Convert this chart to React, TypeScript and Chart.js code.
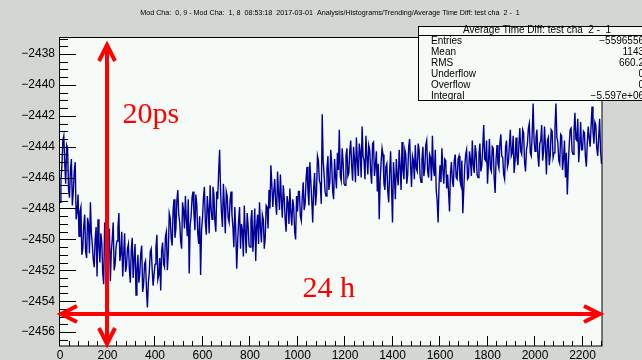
import { useEffect, useRef } from "react";
import { Chart, registerables } from "chart.js";

Chart.register(...registerables);

const TITLE =
  "Mod Cha:  0, 9 - Mod Cha:  1, 8  08:53:18  2017-03-01  Analysis/Histograms/Trending/Average Time Diff: test cha  2 -  1";
const statsTitle = "Average Time Diff: test cha  2 -  1";
const statsLabels = ["Entries", "Mean", "RMS", "Underflow", "Overflow", "Integral"];
const statsValues = ["\u22125596556", "1143", "660.2", "0", "0", "\u22125.597e+06"];

const xTicks = [0, 200, 400, 600, 800, 1000, 1200, 1400, 1600, 1800, 2000, 2200];
const yTicks = [-2456, -2454, -2452, -2450, -2448, -2446, -2444, -2442, -2440, -2438];

const binWidth = 4;

// bins 0, 8, 16 ... 392
const valuesA = [
  -2447.6, -2445.2, -2443.3, -2446.4, -2444.1, -2447.3, -2444.8, -2446.9, -2445.0, -2448.2,
  -2449.8, -2447.9, -2450.6, -2448.4, -2451.2, -2449.0, -2447.6, -2450.3, -2451.8, -2449.2,
  -2448.7, -2451.5, -2450.2, -2452.9, -2449.8, -2451.9, -2449.3, -2450.8, -2448.9, -2451.6,
  -2450.1, -2448.3, -2450.9, -2452.4, -2449.6, -2451.7, -2450.3, -2452.8, -2449.9, -2451.2,
  -2453.6, -2451.0, -2452.2, -2450.4, -2452.9, -2451.4, -2454.4, -2452.1, -2450.6, -2453.0,
];
// bins 4, 12, 20 ... 396
const valuesA2 = [
  -2446.2, -2443.6, -2445.1, -2443.9, -2446.8, -2445.5, -2447.8, -2445.6, -2448.7, -2447.1,
  -2448.2, -2451.0, -2449.1, -2450.8, -2448.6, -2450.9, -2449.6, -2451.3, -2450.0, -2452.4,
  -2450.4, -2449.6, -2452.2, -2448.9, -2451.1, -2450.4, -2452.7, -2450.0, -2452.0, -2450.5,
  -2449.2, -2451.4, -2449.5, -2451.0, -2452.1, -2450.6, -2451.9, -2450.7, -2452.5, -2450.3,
  -2452.0, -2452.8, -2450.9, -2453.4, -2451.6, -2453.2, -2452.8, -2450.8, -2451.9, -2452.3,
];
// bins 400 ... 792
const valuesB = [
  -2451.6, -2449.7, -2452.3, -2453.3, -2450.2, -2451.8, -2449.5, -2450.9, -2448.6, -2450.4,
  -2447.4, -2449.3, -2446.8, -2448.9, -2450.6, -2448.1, -2447.2, -2449.8, -2452.2, -2448.5,
  -2446.9, -2449.4, -2447.8, -2450.3, -2452.3, -2448.6, -2446.6, -2449.7, -2448.0, -2446.5,
  -2448.7, -2447.1, -2449.5, -2447.4, -2444.2, -2448.3, -2446.4, -2449.6, -2447.2, -2448.9,
  -2446.9, -2449.2, -2447.9, -2451.9, -2448.8, -2450.6, -2449.4, -2447.8, -2450.9, -2449.1,
];
// bins 404 ... 796
const valuesB2 = [
  -2450.5, -2452.6, -2451.2, -2450.7, -2451.6, -2449.8, -2452.0, -2448.3, -2449.9, -2448.2,
  -2449.9, -2447.5, -2448.4, -2450.1, -2447.6, -2449.3, -2448.8, -2447.4, -2449.1, -2447.3,
  -2448.3, -2447.1, -2449.6, -2448.5, -2449.4, -2447.3, -2448.9, -2447.2, -2449.6, -2447.9,
  -2446.6, -2448.8, -2446.9, -2445.6, -2446.8, -2449.2, -2447.8, -2446.9, -2448.6, -2447.5,
  -2448.4, -2450.5, -2449.4, -2450.2, -2447.9, -2449.0, -2451.1, -2449.5, -2448.3, -2450.4,
];
// bins 800 ... 1192
const valuesC = [
  -2450.5, -2448.1, -2449.6, -2451.4, -2448.4, -2447.6, -2450.2, -2448.7, -2449.9, -2447.9,
  -2446.8, -2445.2, -2447.9, -2446.1, -2448.4, -2447.0, -2445.8, -2448.6, -2447.3, -2449.5,
  -2447.6, -2446.7, -2449.1, -2447.9, -2450.0, -2448.2, -2446.9, -2448.8, -2446.3, -2447.7,
  -2445.3, -2447.8, -2446.2, -2448.9, -2445.7, -2447.0, -2444.9, -2446.4, -2441.9, -2445.8,
  -2447.2, -2444.6, -2446.3, -2445.1, -2447.4, -2445.9, -2444.4, -2442.9, -2446.2, -2445.0,
];
// bins 804 ... 1196
const valuesC2 = [
  -2448.7, -2450.8, -2448.0, -2449.1, -2450.3, -2449.2, -2448.4, -2450.6, -2447.8, -2449.3,
  -2448.0, -2446.5, -2446.9, -2447.6, -2445.6, -2448.1, -2447.4, -2446.5, -2448.7, -2447.2,
  -2449.0, -2448.3, -2447.4, -2449.5, -2447.2, -2446.9, -2448.5, -2447.3, -2448.1, -2446.1,
  -2446.9, -2445.0, -2447.5, -2446.7, -2447.8, -2444.6, -2446.2, -2447.7, -2444.9, -2446.9,
  -2445.4, -2446.8, -2444.2, -2446.9, -2444.8, -2446.7, -2445.5, -2445.9, -2444.1, -2446.4,
];
// bins 1200 ... 1592
const valuesD = [
  -2446.5, -2444.1, -2445.7, -2443.6, -2446.2, -2444.8, -2443.4, -2445.9, -2444.3, -2442.7,
  -2444.9, -2443.3, -2445.8, -2444.2, -2446.4, -2443.7, -2445.2, -2446.9, -2448.7, -2445.0,
  -2444.5, -2446.8, -2445.1, -2447.6, -2444.3, -2448.9, -2446.0, -2444.8, -2446.5, -2445.3,
  -2443.7, -2446.1, -2444.5, -2445.8, -2443.5, -2446.6, -2444.9, -2443.9, -2445.6, -2444.2,
  -2446.3, -2444.0, -2445.4, -2443.6, -2446.0, -2444.7, -2443.3, -2445.9, -2446.8, -2448.9,
];
// bins 1204 ... 1596
const valuesD2 = [
  -2444.6, -2445.9, -2444.3, -2445.2, -2444.0, -2446.3, -2444.9, -2443.8, -2446.0, -2444.6,
  -2446.1, -2444.6, -2443.9, -2445.6, -2443.8, -2445.9, -2444.3, -2445.1, -2446.2, -2444.1,
  -2446.4, -2445.3, -2446.9, -2445.6, -2446.7, -2445.0, -2447.4, -2445.9, -2444.2, -2446.8,
  -2445.5, -2444.2, -2446.4, -2444.0, -2445.2, -2444.6, -2446.1, -2445.4, -2443.8, -2445.9,
  -2444.8, -2445.9, -2443.9, -2445.6, -2444.5, -2446.2, -2445.4, -2444.2, -2447.5, -2446.4,
];
// bins 1600 ... 1992
const valuesE = [
  -2445.2, -2444.1, -2446.4, -2444.9, -2445.8, -2448.2, -2445.0, -2446.6, -2444.5, -2446.1,
  -2444.6, -2446.5, -2448.3, -2445.3, -2444.2, -2446.0, -2444.8, -2443.6, -2445.7, -2444.4,
  -2446.0, -2443.8, -2445.2, -2442.6, -2444.9, -2446.4, -2443.5, -2445.6, -2444.1, -2447.0,
  -2443.9, -2445.4, -2443.2, -2444.7, -2446.1, -2443.6, -2445.0, -2442.9, -2444.4, -2445.7,
  -2443.4, -2445.2, -2442.8, -2444.5, -2443.1, -2445.6, -2443.8, -2442.5, -2444.6, -2441.2,
];
// bins 1604 ... 1996
const valuesE2 = [
  -2446.3, -2445.5, -2444.8, -2446.7, -2446.9, -2445.7, -2446.2, -2444.9, -2446.0, -2444.8,
  -2446.2, -2444.9, -2446.8, -2444.5, -2446.1, -2444.3, -2445.9, -2445.2, -2443.9, -2445.8,
  -2444.5, -2445.6, -2444.0, -2444.8, -2443.6, -2445.0, -2445.4, -2444.0, -2446.0, -2444.8,
  -2445.1, -2443.8, -2444.6, -2445.8, -2444.0, -2445.3, -2443.9, -2444.6, -2443.3, -2444.9,
  -2444.7, -2443.9, -2444.3, -2442.9, -2445.0, -2444.2, -2442.8, -2444.4, -2443.2, -2443.6,
];
// bins 2000 ... 2280
const valuesF = [
  -2444.3, -2442.9, -2445.3, -2443.6, -2444.9, -2442.7, -2445.8, -2443.4, -2444.6, -2443.0,
  -2444.4, -2441.2, -2443.7, -2445.1, -2443.3, -2444.8, -2446.0, -2447.1, -2443.9, -2442.8,
  -2444.5, -2441.8, -2443.6, -2445.0, -2442.4, -2444.2, -2443.1, -2445.3, -2442.7, -2444.0,
  -2441.4, -2443.8, -2442.6, -2444.6, -2442.2, -2445.1,
];
// bins 2004 ... 2276
const valuesF2 = [
  -2443.4, -2444.6, -2443.8, -2442.6, -2444.3, -2444.0, -2443.6, -2445.2, -2442.9, -2444.7,
  -2442.8, -2443.4, -2444.9, -2443.2, -2445.5, -2443.6, -2444.4, -2445.2, -2442.9, -2444.3,
  -2443.0, -2443.5, -2442.2, -2443.9, -2444.2, -2443.0, -2444.6, -2443.8, -2443.4, -2442.7,
  -2443.0, -2442.4, -2444.1, -2443.4, -2444.3,
];

const X_MAX = 2282;
const Y_MIN = -2456.9;
const Y_MAX = -2436.9;

const BG = "rgb(211,214,211)";
const PLOT_BG = "rgb(247,251,247)";
const LINE = "#000099";
const RED = "#ff0000";
const SANS = '"Liberation Sans", Arial, Helvetica, sans-serif';
const SERIF = '"Liberation Serif", "Times New Roman", serif';

function fmt(v: number) {
  return v < 0 ? "\u2212" + Math.abs(v) : String(v);
}

function arrowLine(
  ctx: CanvasRenderingContext2D,
  x1: number,
  y1: number,
  x2: number,
  y2: number,
  along: number,
  across: number
) {
  ctx.beginPath();
  ctx.moveTo(x1, y1);
  ctx.lineTo(x2, y2);
  ctx.stroke();
  const dx = x2 - x1;
  const dy = y2 - y1;
  const len = Math.hypot(dx, dy);
  const ux = dx / len;
  const uy = dy / len;
  const heads: [number, number, number][] = [
    [x1, y1, 1],
    [x2, y2, -1],
  ];
  for (const [tx, ty, s] of heads) {
    const bx = tx + ux * along * s;
    const by = ty + uy * along * s;
    ctx.beginPath();
    ctx.moveTo(bx - uy * across, by + ux * across);
    ctx.lineTo(tx, ty);
    ctx.lineTo(bx + uy * across, by - ux * across);
    ctx.stroke();
  }
}

const rootStyle = {
  id: "rootStyle",
  beforeDraw(chart: any) {
    const { ctx, chartArea: a, width, height } = chart;
    ctx.save();
    ctx.fillStyle = BG;
    ctx.fillRect(0, 0, width, height);
    ctx.fillStyle = PLOT_BG;
    ctx.fillRect(a.left, a.top, a.right - a.left, a.bottom - a.top);
    ctx.font = `10px ${SANS}`;
    const w = ctx.measureText(TITLE).width;
    const size = (10 * 380) / w;
    ctx.font = `${size}px ${SANS}`;
    ctx.fillStyle = "#000";
    ctx.textAlign = "center";
    ctx.textBaseline = "middle";
    ctx.fillText(TITLE, 330, 13.5);
    ctx.restore();
  },
  afterDraw(chart: any) {
    const { ctx, chartArea: a } = chart;
    const xs = chart.scales.x;
    const ys = chart.scales.y;
    ctx.save();
    // frame
    ctx.strokeStyle = "#000";
    ctx.lineWidth = 1;
    ctx.strokeRect(a.left - 0.5, a.top + 0.5, a.right - a.left + 0.5, a.bottom - a.top - 0.5);
    // y ticks
    ctx.beginPath();
    for (let k = Math.ceil(Y_MIN * 2); k <= Math.floor(Y_MAX * 2); k++) {
      const v = k / 2;
      const py = Math.round(ys.getPixelForValue(v)) + 0.5;
      const len = k % 4 === 0 ? 16 : 8;
      ctx.moveTo(a.left, py);
      ctx.lineTo(a.left + len, py);
    }
    // x ticks
    for (let k = 0; k * 40 <= X_MAX; k++) {
      const v = k * 40;
      const px = Math.round(xs.getPixelForValue(v)) - 0.5;
      const len = k % 5 === 0 ? 10 : 5;
      ctx.moveTo(px, a.bottom);
      ctx.lineTo(px, a.bottom - len);
    }
    ctx.stroke();

    // stats box
    const bx = 418.5;
    const by = 26.5;
    ctx.fillStyle = PLOT_BG;
    ctx.fillRect(bx, by, 300, 74);
    ctx.strokeRect(bx, by, 300, 74);
    ctx.beginPath();
    ctx.moveTo(bx, 35.5);
    ctx.lineTo(660, 35.5);
    ctx.stroke();
    ctx.fillStyle = "#000";
    ctx.font = `10px ${SANS}`;
    ctx.textBaseline = "middle";
    ctx.textAlign = "center";
    ctx.fillText(statsTitle, 537, 30.5);
    statsLabels.forEach((lab, i) => {
      const yy = 40.8 + i * 11;
      ctx.textAlign = "left";
      ctx.fillText(lab, 431, yy);
      ctx.textAlign = "right";
      ctx.fillText(statsValues[i], 644, yy);
    });

    // red annotations
    ctx.strokeStyle = RED;
    ctx.lineWidth = 4;
    ctx.lineCap = "butt";
    ctx.lineJoin = "miter";
    arrowLine(ctx, 107, 45, 107, 344, 16, 8);
    arrowLine(ctx, 61, 314, 600, 314, 16, 8);
    ctx.fillStyle = RED;
    ctx.font = `30px ${SERIF}`;
    ctx.textAlign = "left";
    ctx.textBaseline = "alphabetic";
    ctx.fillText("20ps", 122.5, 123);
    ctx.fillText("24 h", 302.5, 297);
    ctx.restore();
  },
};

export default function App() {
  const ref = useRef<HTMLCanvasElement | null>(null);
  useEffect(() => {
    if (!ref.current) return;
    const even = [...valuesA, ...valuesB, ...valuesC, ...valuesD, ...valuesE, ...valuesF];
    const odd = [...valuesA2, ...valuesB2, ...valuesC2, ...valuesD2, ...valuesE2, ...valuesF2];
    const values: number[] = [];
    even.forEach((v, i) => {
      values.push(v);
      if (i < odd.length) values.push(odd[i]);
    });
    const points = values.map((v, i) => ({ x: i * binWidth, y: v }));
    const chart = new Chart(ref.current, {
      type: "line",
      data: {
        datasets: [
          {
            data: points,
            borderColor: LINE,
            borderWidth: 1.4,
            pointRadius: 0,
            tension: 0,
            fill: false,
          },
        ],
      },
      options: {
        responsive: false,
        animation: false,
        events: [],
        layout: { padding: { top: 37, right: 40, left: 0, bottom: 0 } },
        plugins: { legend: { display: false }, tooltip: { enabled: false }, title: { display: false } },
        scales: {
          x: {
            type: "linear",
            min: 0,
            max: X_MAX,
            grid: { display: false, drawTicks: false },
            border: { display: false },
            afterFit: (s: any) => {
              s.height = 14;
            },
            afterBuildTicks: (s: any) => {
              s.ticks = xTicks.map((v) => ({ value: v }));
            },
            ticks: {
              autoSkip: false,
              maxRotation: 0,
              padding: 2,
              color: "#000",
              font: { family: SANS, size: 12 },
              callback: (v: any) => fmt(Number(v)),
            },
          },
          y: {
            type: "linear",
            min: Y_MIN,
            max: Y_MAX,
            grid: { display: false, drawTicks: false },
            border: { display: false },
            afterFit: (s: any) => {
              s.width = 60;
            },
            afterBuildTicks: (s: any) => {
              s.ticks = yTicks.map((v) => ({ value: v }));
            },
            ticks: {
              autoSkip: false,
              padding: 5,
              color: "#000",
              font: { family: SANS, size: 12 },
              callback: (v: any) => fmt(Number(v)),
            },
          },
        },
      },
      plugins: [rootStyle],
    });
    return () => chart.destroy();
  }, []);
  return (
    <div style={{ position: "fixed", left: 0, top: 0, width: 642, height: 360 }}>
      <canvas ref={ref} width={642} height={360} style={{ display: "block" }} />
    </div>
  );
}
